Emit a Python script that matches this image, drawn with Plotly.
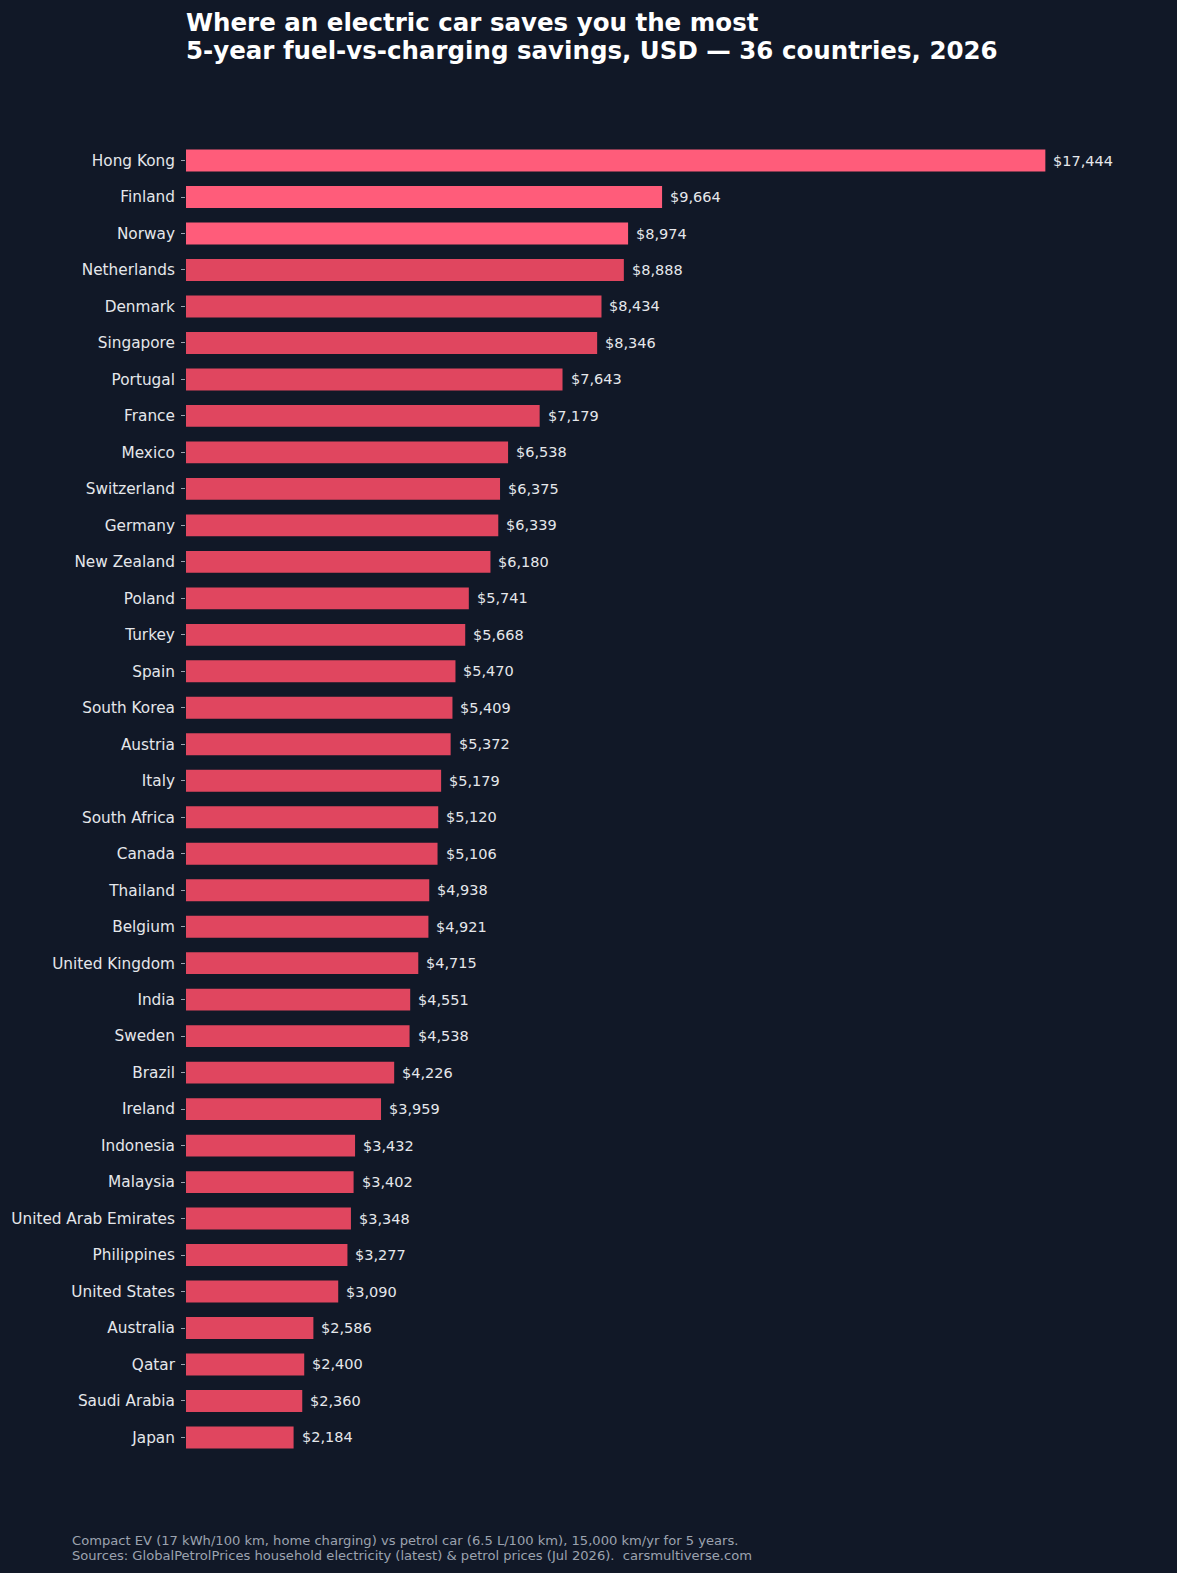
import plotly.graph_objects as go

countries = ["Hong Kong", "Finland", "Norway", "Netherlands", "Denmark", "Singapore", "Portugal",
             "France", "Mexico", "Switzerland", "Germany", "New Zealand", "Poland", "Turkey", "Spain",
             "South Korea", "Austria", "Italy", "South Africa", "Canada", "Thailand", "Belgium",
             "United Kingdom", "India", "Sweden", "Brazil", "Ireland", "Indonesia", "Malaysia",
             "United Arab Emirates", "Philippines", "United States", "Australia", "Qatar",
             "Saudi Arabia", "Japan"]
savings = [17444, 9664, 8974, 8888, 8434, 8346, 7643, 7179, 6538, 6375, 6339, 6180, 5741, 5668,
           5470, 5409, 5372, 5179, 5120, 5106, 4938, 4921, 4715, 4551, 4538, 4226, 3959, 3432,
           3402, 3348, 3277, 3090, 2586, 2400, 2360, 2184]
top_n = 3

title_lines = ["Where an electric car saves you the most",
               "5-year fuel-vs-charging savings, USD — 36 countries, 2026"]
footer_lines = ["Compact EV (17 kWh/100 km, home charging) vs petrol car (6.5 L/100 km), 15,000 km/yr for 5 years.",
                "Sources: GlobalPetrolPrices household electricity (latest) &amp; petrol prices (Jul 2026).  carsmultiverse.com"]

BG = "#111827"
HI = "#FF5C7A"
LO = "#E0465F"
colors = [HI if i < top_n else LO for i in range(len(countries))]

W, H = 1177, 1573
L, R, T, B = 186, 54.8, 134.9, 109.5
plot_w = W - L - R
plot_h = H - T - B


def py(ypx):
    return 1 + (T - ypx) / plot_h


def px(xpx):
    return (xpx - L) / plot_w


fig = go.Figure()
fig.add_trace(go.Bar(
    x=savings, y=countries, orientation="h",
    marker=dict(color=colors, line=dict(width=0)),
    width=0.6, hoverinfo="skip",
))

for c, v in zip(countries, savings):
    fig.add_annotation(x=v, y=c, text=f"${v:,}", xanchor="left", yanchor="middle",
                       xshift=6, showarrow=False,
                       font=dict(family="DejaVu Sans", size=14.5, color="#E5E7EB"))

for i, (line, ypx) in enumerate(zip(title_lines, [22, 50])):
    fig.add_annotation(xref="paper", yref="paper", x=px(184), y=py(ypx),
                       xanchor="left", yanchor="middle", showarrow=False, text=f"<b>{line}</b>",
                       font=dict(family="DejaVu Sans", size=24.5, color="#FFFFFF"))

for line, ypx in zip(footer_lines, [1541, 1556]):
    fig.add_annotation(xref="paper", yref="paper", x=px(70), y=py(ypx),
                       xanchor="left", yanchor="middle", showarrow=False, text=line,
                       font=dict(family="DejaVu Sans", size=13.1, color="#9CA3AF"))

fig.update_layout(
    width=W, height=H,
    paper_bgcolor=BG, plot_bgcolor=BG,
    margin=dict(l=L, r=R, t=T, b=B, pad=0),
    showlegend=False,
    xaxis=dict(range=[0, 19000], visible=False, showgrid=False, zeroline=False, fixedrange=True),
    yaxis=dict(
        categoryorder="array", categoryarray=countries,
        range=[35.7, -0.7],
        showgrid=False, zeroline=False, showline=False,
        ticks="outside", ticklen=4, tickwidth=1, tickcolor="#9CA3AF",
        tickfont=dict(family="DejaVu Sans", size=15.3, color="#E5E7EB"),
        ticklabelstandoff=3,
    ),
    font=dict(family="DejaVu Sans"),
)

fig.write_html("out.html")
